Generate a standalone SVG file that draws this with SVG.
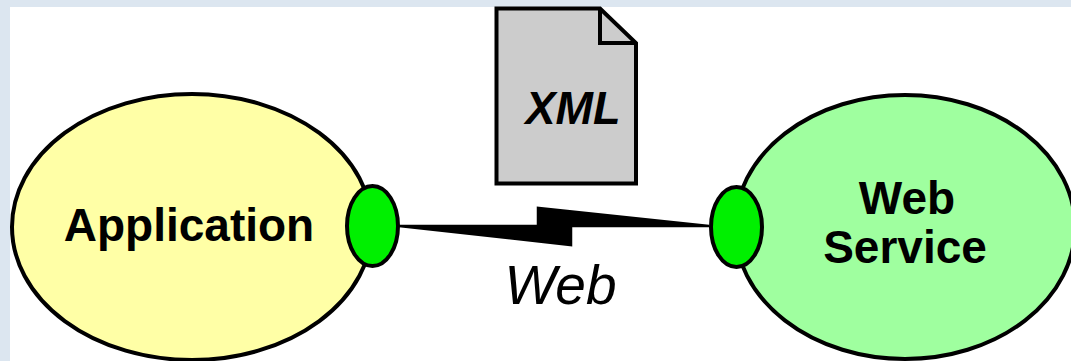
<svg xmlns="http://www.w3.org/2000/svg" width="1071" height="361" viewBox="0 0 1071 361">
<style>
.o{stroke:#000;stroke-width:4}
.t{font-family:"Liberation Sans",Arial,sans-serif;fill:#000;text-anchor:middle}
.b{font-weight:bold;font-size:46px}
</style>
<rect width="1071" height="361" fill="#dce6f0"/>
<rect x="10" y="7" width="1061" height="354" fill="#fff"/>
<g id="application">
<ellipse class="o" cx="192" cy="227" rx="180" ry="133" fill="#ffffa6"/>
<text class="t b" x="189" y="241">Application</text>
</g>
<g id="web-service">
<ellipse class="o" cx="905" cy="227" rx="170" ry="132" fill="#9fff9f"/>
<text class="t b" x="907" y="214">Web</text>
<text class="t b" x="905" y="263">Service</text>
</g>
<g id="connectors">
<path d="M399 226L538 226L538 208L709 226L571 226L571 245Z" fill="#000" stroke="#000" stroke-width="2.500" stroke-linejoin="miter"/>
</g>
<g id="port-left"><ellipse class="o" cx="372.500" cy="226" rx="25.500" ry="40" fill="#00f000"/></g>
<g id="port-right"><ellipse class="o" cx="736.500" cy="227" rx="25.500" ry="40" fill="#00f000"/></g>
<g id="xml-document">
<path class="o" d="M496.500 8.500H600L636 43V183.500H496.500Z" fill="#cccccc"/>
<path class="o" d="M600 8.500V43H636" fill="none"/>
<text class="t" x="573" y="124" font-size="47" font-weight="bold" font-style="italic" textLength="95" lengthAdjust="spacingAndGlyphs">XML</text>
</g>
<g id="web-label">
<text class="t" x="560.500" y="304" font-size="55" font-style="italic">Web</text>
</g>
</svg>
